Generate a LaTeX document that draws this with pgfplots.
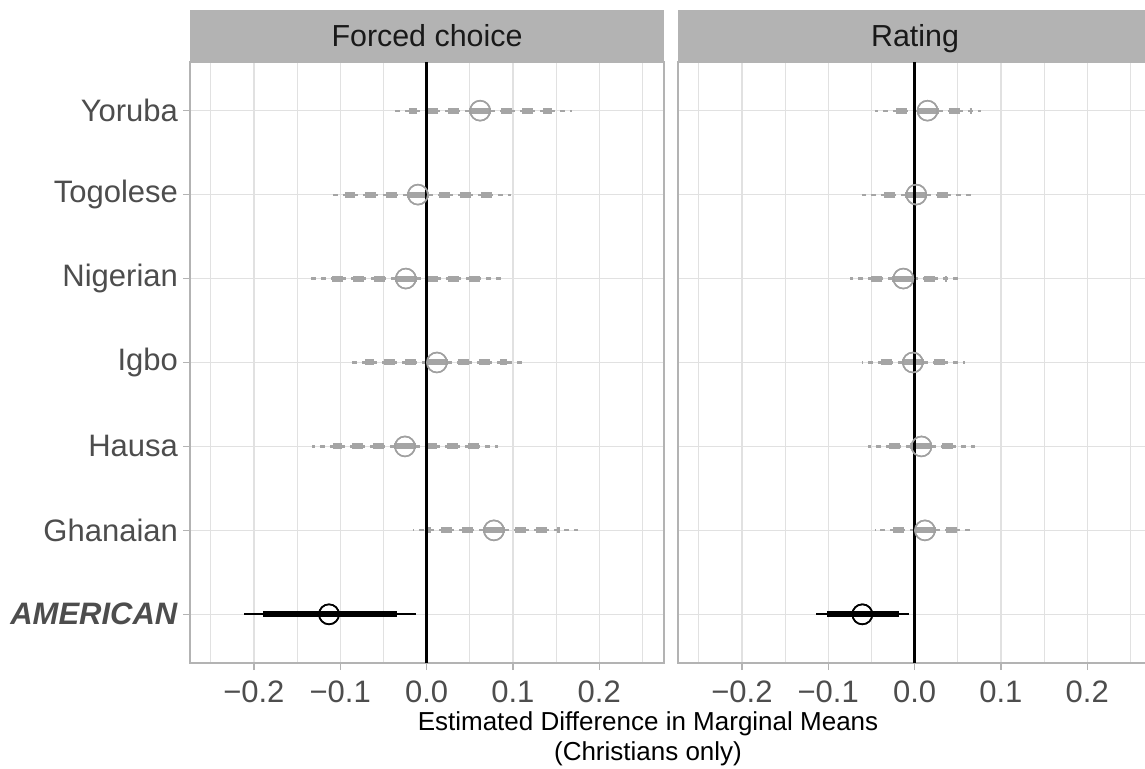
\documentclass[border=0pt]{standalone}
\usepackage{pgfplots}
\pgfplotsset{compat=1.18}
\usepackage{pgfplotstable}
\usepackage{fontspec}
\setmainfont{Liberation Sans}
\definecolor{gridgray}{RGB}{225,225,225}
\definecolor{bordergray}{RGB}{179,179,179}
\definecolor{stripgray}{RGB}{179,179,179}
\definecolor{labelgray}{RGB}{77,77,77}
\definecolor{dashgray}{RGB}{165,165,165}
\definecolor{circgray}{RGB}{160,160,160}

\pgfplotstableread{
y est lo95 hi95 lo90 hi90
7 0.062 -0.042 0.168 -0.020 0.145
6 -0.010 -0.113 0.098 -0.094 0.077
5 -0.024 -0.136 0.088 -0.112 0.065
4 0.012 -0.092 0.114 -0.071 0.093
3 -0.025 -0.133 0.083 -0.108 0.062
2 0.078 -0.016 0.175 0.002 0.155
}\leftG
\pgfplotstableread{
y est lo95 hi95 lo90 hi90
1 -0.113 -0.211 -0.012 -0.190 -0.034
}\leftA
\pgfplotstableread{
y est lo95 hi95 lo90 hi90
7 0.015 -0.046 0.077 -0.031 0.066
6 0.002 -0.061 0.066 -0.043 0.050
5 -0.013 -0.075 0.056 -0.058 0.038
4 -0.002 -0.061 0.058 -0.045 0.042
3 0.008 -0.054 0.070 -0.038 0.054
2 0.012 -0.046 0.064 -0.032 0.050
}\rightG
\pgfplotstableread{
y est lo95 hi95 lo90 hi90
1 -0.0605 -0.1136 -0.0066 -0.102 -0.0185
}\rightA

\pgfplotsset{
  panel/.style={
    scale only axis, width=237pt, height=300.5pt,
    xmin=-0.274, xmax=0.275, ymin=0.42, ymax=7.58,
    xtick={-0.2,-0.1,0,0.1,0.2},
    xticklabels={−0.2,−0.1,0.0,0.1,0.2},
    minor xtick={-0.25,-0.15,-0.05,0.05,0.15,0.25},
    ytick={1,2,3,4,5,6,7},
    xmajorgrids, xminorgrids, ymajorgrids,
    major grid style={draw=gridgray, line width=0.7pt},
    minor grid style={draw=gridgray, line width=0.5pt},
    axis line style={draw=bordergray, line width=1pt},
    tick style={draw=bordergray, line width=0.7pt},
    tick align=outside, major tick length=3.5pt, minor tick length=0pt,
    xtick pos=bottom, ytick pos=left,
    ticklabel style={font=\fontsize{15.5}{18}\selectfont, text=labelgray},
    xticklabel style={yshift=-2pt},
    clip=false,
  },
  thinG/.style={only marks, mark=o, mark size=5pt, mark options={draw=circgray, line width=0.75pt, solid},
    error bars/.cd, x dir=both, x explicit, error mark=none,
    error bar style={draw=dashgray, line width=1.1pt, dash pattern=on 2.5pt off 2.5pt}},
  thickG/.style={only marks, mark=o, mark size=5pt, mark options={draw=circgray, line width=0.75pt, solid},
    error bars/.cd, x dir=both, x explicit, error mark=none,
    error bar style={draw=dashgray, line width=3pt, dash pattern=on 5.5pt off 5pt}},
  thinA/.style={only marks, mark=o, mark size=5pt, mark options={draw=black, line width=0.8pt, solid},
    error bars/.cd, x dir=both, x explicit, error mark=none,
    error bar style={draw=black, line width=1pt}},
  thickA/.style={only marks, mark=o, mark size=5pt, mark options={draw=black, line width=0.8pt, solid},
    error bars/.cd, x dir=both, x explicit, error mark=none,
    error bar style={draw=black, line width=3pt}},
}

\begin{document}
\begin{tikzpicture}
% strips
\fill[stripgray] (95pt,-31pt) rectangle (332pt,-5pt);
\fill[stripgray] (339pt,-31pt) rectangle (576pt,-5pt);
\node[font=\fontsize{15.2}{18}\selectfont, text=black!90, anchor=base, inner sep=0pt] at (213.5pt,-23.3pt) {Forced choice};
\node[font=\fontsize{15.2}{18}\selectfont, text=black!90, anchor=base, inner sep=0pt] at (457.5pt,-23.3pt) {Rating};

\begin{axis}[panel, at={(95pt,-331.5pt)}, anchor=south west,
  yticklabels={\textbf{\textit{AMERICAN}},Ghanaian,Hausa,Igbo,Nigerian,Togolese,Yoruba},
  yticklabel style={xshift=1pt}]
\addplot[thinG] table[x=est,y=y, x error plus expr=\thisrow{hi95}-\thisrow{est}, x error minus expr=\thisrow{est}-\thisrow{lo95}] \leftG;
\addplot[thickG] table[x=est,y=y, x error plus expr=\thisrow{hi90}-\thisrow{est}, x error minus expr=\thisrow{est}-\thisrow{lo90}] \leftG;
\addplot[thinA] table[x=est,y=y, x error plus expr=\thisrow{hi95}-\thisrow{est}, x error minus expr=\thisrow{est}-\thisrow{lo95}] \leftA;
\addplot[thickA] table[x=est,y=y, x error plus expr=\thisrow{hi90}-\thisrow{est}, x error minus expr=\thisrow{est}-\thisrow{lo90}] \leftA;
\draw[black, line width=1.5pt] (axis cs:0,0.42) -- (axis cs:0,7.58);
\end{axis}

\begin{axis}[panel, at={(339pt,-331.5pt)}, anchor=south west,
  yticklabels={}, ytick style={draw=none}]
\addplot[thinG] table[x=est,y=y, x error plus expr=\thisrow{hi95}-\thisrow{est}, x error minus expr=\thisrow{est}-\thisrow{lo95}] \rightG;
\addplot[thickG] table[x=est,y=y, x error plus expr=\thisrow{hi90}-\thisrow{est}, x error minus expr=\thisrow{est}-\thisrow{lo90}] \rightG;
\addplot[thinA] table[x=est,y=y, x error plus expr=\thisrow{hi95}-\thisrow{est}, x error minus expr=\thisrow{est}-\thisrow{lo95}] \rightA;
\addplot[thickA] table[x=est,y=y, x error plus expr=\thisrow{hi90}-\thisrow{est}, x error minus expr=\thisrow{est}-\thisrow{lo90}] \rightA;
\draw[black, line width=1.5pt] (axis cs:0,0.42) -- (axis cs:0,7.58);
\end{axis}

\node[font=\fontsize{13}{15}\selectfont, align=center, text=black] at (324pt,-369.5pt) {Estimated Difference in Marginal Means\\(Christians only)};

\pgfresetboundingbox
\useasboundingbox (0,0) rectangle (572.5pt,-384.5pt);
\end{tikzpicture}
\end{document}
